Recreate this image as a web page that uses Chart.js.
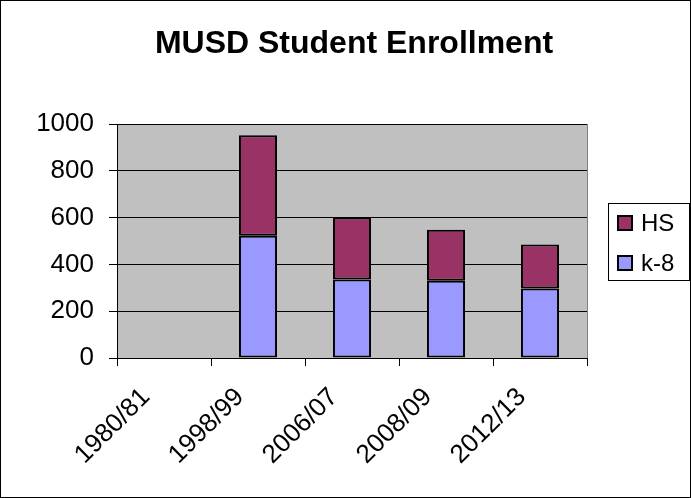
<!DOCTYPE html>
<html>
<head>
<meta charset="utf-8">
<script src="https://cdn.jsdelivr.net/npm/chart.js@4/dist/chart.umd.min.js"></script>
<style>
  html, body { margin: 0; padding: 0; background: #fff; }
  #wrap { width: 691px; height: 498px; }
</style>
</head>
<body>
<div id="wrap"><canvas id="chart" width="691" height="498"></canvas></div>
<script>
const title = "MUSD Student Enrollment";
const years = ["1980/81", "1998/99", "2006/07", "2008/09", "2012/13"];
const k8 = [null, 522, 335, 330, 297];
const hs = [null, 430, 265, 218, 188];
const yTicks = [0, 200, 400, 600, 800, 1000];

const FONT = "'Liberation Sans', Arial, sans-serif";

// grey plot area, title, legend and outer frame
const extras = {
  id: "extras",
  beforeDraw(chart) {
    const { ctx, chartArea: a } = chart;
    ctx.save();
    ctx.fillStyle = "#fff";
    ctx.fillRect(0, 0, chart.width, chart.height);
    ctx.fillStyle = "#c0c0c0";
    ctx.fillRect(a.left, a.top, a.right - a.left, a.bottom - a.top);
    ctx.restore();
  },
  beforeDatasetsDraw(chart) {
    const { ctx, chartArea: a } = chart;
    ctx.save();
    ctx.strokeStyle = "#808080";
    ctx.lineWidth = 1;
    ctx.beginPath();
    ctx.moveTo(a.right + 0.5, a.top);
    ctx.lineTo(a.right + 0.5, a.bottom);
    ctx.stroke();
    ctx.restore();
  },
  afterDraw(chart) {
    const { ctx } = chart;
    ctx.save();
    ctx.strokeStyle = "#000";
    ctx.lineWidth = 1;
    ctx.strokeRect(0.5, 0.5, chart.width - 1, chart.height - 1);

    ctx.fillStyle = "#000";
    ctx.font = "bold 32px " + FONT;
    ctx.textAlign = "center";
    ctx.textBaseline = "middle";
    ctx.fillText(title, 354, 44);

    // legend box, HS on top
    ctx.strokeRect(608.5, 203.5, 81, 77);
    const items = chart.data.datasets.slice().reverse();
    ctx.font = "24px " + FONT;
    ctx.textAlign = "left";
    items.forEach((ds, i) => {
      const cy = 223 + i * 40;
      ctx.fillStyle = ds.backgroundColor;
      ctx.fillRect(618, cy - 7, 14, 14);
      ctx.lineWidth = 2;
      ctx.strokeStyle = "#000";
      ctx.strokeRect(618, cy - 7, 14, 14);
      ctx.fillStyle = "#000";
      ctx.fillText(ds.label, 641, cy + 1);
    });
    ctx.restore();
  }
};

new Chart(document.getElementById("chart"), {
  type: "bar",
  data: {
    labels: years,
    datasets: [
      {
        label: "k-8",
        data: k8,
        backgroundColor: "#9999ff",
        borderColor: "#000",
        borderWidth: 2,
        borderSkipped: false,
      },
      {
        label: "HS",
        data: hs,
        backgroundColor: "#993366",
        borderColor: "#000",
        borderWidth: 2,
        borderSkipped: false,
      },
    ],
  },
  options: {
    responsive: false,
    animation: false,
    layout: { padding: { left: 0, right: 104, top: 124, bottom: 0 } },
    datasets: { bar: { categoryPercentage: 1, barPercentage: 0.405 } },
    plugins: {
      legend: { display: false },
      tooltip: { enabled: false },
    },
    scales: {
      x: {
        stacked: true,
        afterFit(s) { s.height = 140; },
        grid: {
          offset: true,
          drawOnChartArea: false,
          drawTicks: true,
          tickLength: 8,
          color: "#000",
        },
        border: { color: "#000", width: 1 },
        ticks: {
          color: "#000",
          font: { family: FONT, size: 26 },
          minRotation: 45,
          maxRotation: 45,
          autoSkip: false,
          padding: 16,
          labelOffset: -18,
        },
      },
      y: {
        stacked: true,
        min: 0,
        max: 1000,
        afterFit(s) { s.width = 117; },
        afterBuildTicks(s) { s.ticks = yTicks.map(v => ({ value: v })); },
        grid: { color: "#000", tickLength: 8 },
        border: { color: "#000", width: 1 },
        ticks: {
          color: "#000",
          font: { family: FONT, size: 26 },
          padding: 15,
          callback: v => String(v),
        },
      },
    },
  },
  plugins: [extras],
});
</script>
</body>
</html>
